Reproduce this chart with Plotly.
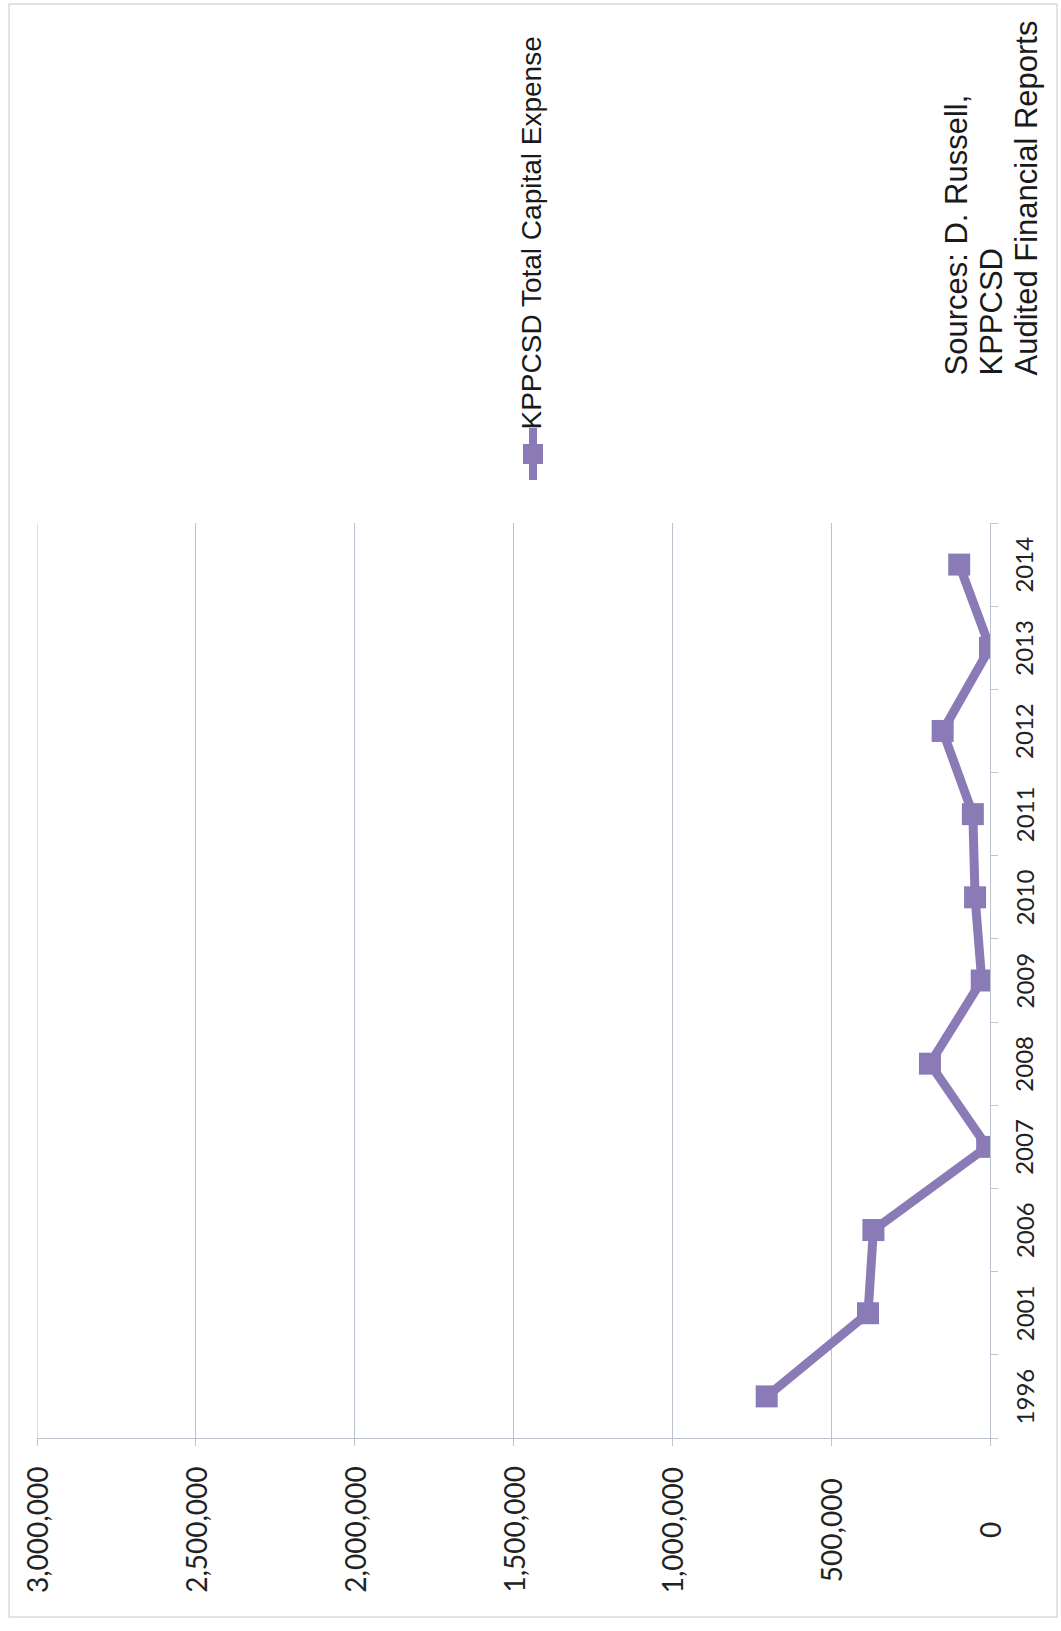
import plotly.graph_objects as go

years = ["1996", "2001", "2006", "2007", "2008", "2009", "2010", "2011", "2012", "2013", "2014"]
capital_expense = [703000, 384000, 367000, 9000, 189000, 26000, 47000, 54000, 149000, 0, 97000]
value_ticks = [0, 500000, 1000000, 1500000, 2000000, 2500000, 3000000]
value_tick_text = ["0", "500,000", "1,000,000", "1,500,000", "2,000,000", "2,500,000", "3,000,000"]
series_name = "KPPCSD Total Capital Expense"
source_lines = ["Sources: D. Russell,", "KPPCSD", "Audited Financial Reports"]

W, H = 1061, 1631
L, R, T, B = 37, 990, 523, 1438
purple = "#8A7BB6"
grid = "#BCC3CF"


def px_x(p):
    return (p - L) / (R - L)


def px_y(p):
    return (B - p) / (B - T)


fig = go.Figure()
fig.add_trace(go.Scatter(
    x=capital_expense, y=years, mode="lines+markers",
    line=dict(color=purple, width=9),
    marker=dict(symbol="square", size=22, color=purple),
    name=series_name, showlegend=False,
))

annotations = []
for v, t in zip(value_ticks, value_tick_text):
    annotations.append(dict(
        x=v, xref="x", y=px_y(1530), yref="paper", text=t, textangle=-90,
        showarrow=False, xanchor="center", yanchor="middle",
        font=dict(family="Lato", size=28, color="#222222"),
    ))

# year labels centred on each category (category index on the y axis)
for i, yr in enumerate(years):
    annotations.append(dict(
        x=px_x(1024), xref="paper", y=i, yref="y", text=yr, textangle=-90,
        showarrow=False, xanchor="center", yanchor="middle",
        font=dict(family="Lato", size=24, color="#222222"),
    ))

# legend text
annotations.append(dict(
    x=px_x(531), xref="paper", y=px_y(432), yref="paper", text=series_name,
    textangle=-90, showarrow=False, xanchor="center", yanchor="bottom",
    font=dict(family="Liberation Sans", size=28, color="#1a1a1a"),
))
# sources, one line each
for i, line in enumerate(source_lines):
    annotations.append(dict(
        x=px_x(956 + 35 * i), xref="paper", y=px_y(378), yref="paper",
        text=line, align="left",
        textangle=-90, showarrow=False, xanchor="center", yanchor="bottom",
        font=dict(family="Liberation Sans", size=31, color="#1a1a1a"),
    ))

shapes = [
    dict(type="rect", xref="paper", yref="paper", x0=px_x(9), x1=px_x(1057),
         y0=px_y(4), y1=px_y(1617), line=dict(color="#C8C8C8", width=1)),
    dict(type="line", xref="x", yref="paper", x0=max(value_ticks), x1=max(value_ticks),
         y0=0, y1=1, line=dict(color=grid, width=1)),
    dict(type="line", xref="paper", yref="paper", x0=px_x(533), x1=px_x(533),
         y0=px_y(428), y1=px_y(480), line=dict(color=purple, width=8)),
    dict(type="rect", xref="paper", yref="paper", x0=px_x(523), x1=px_x(543),
         y0=px_y(444), y1=px_y(464), line=dict(width=0), fillcolor=purple),
]

fig.update_layout(
    width=W, height=H,
    margin=dict(l=L, r=W - R, t=T, b=H - B),
    paper_bgcolor="white", plot_bgcolor="white",
    annotations=annotations, shapes=shapes,
    xaxis=dict(
        range=[3000000, 0], tickvals=value_ticks, showticklabels=False,
        showgrid=True, gridcolor=grid, gridwidth=1, zeroline=False,
        showline=True, linecolor=grid, linewidth=1,
        ticks="outside", ticklen=7, tickcolor=grid,
    ),
    yaxis=dict(
        type="category", categoryorder="array", categoryarray=years,
        range=[-0.5, 10.5], side="right", showticklabels=False,
        showgrid=False, zeroline=False,
        showline=True, linecolor=grid, linewidth=1,
        ticks="outside", ticklen=7, tickcolor=grid, tickson="boundaries",
    ),
)

fig.write_html("out.html")
